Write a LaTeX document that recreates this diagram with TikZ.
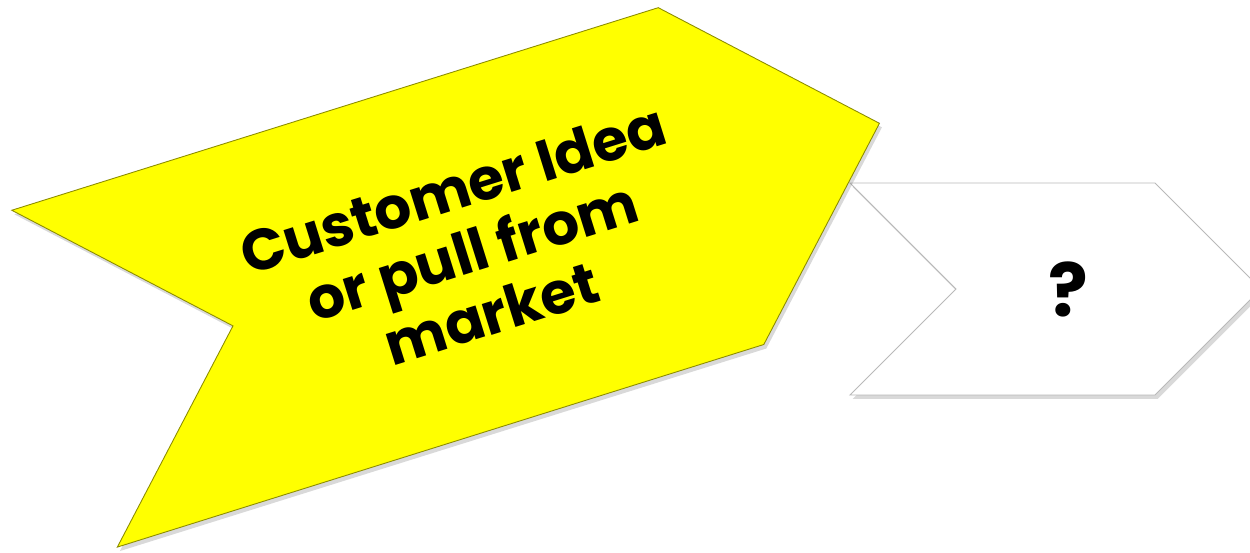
\documentclass[tikz,border=0pt]{standalone}
\usepackage{fontspec}
\setmainfont{Poppins}
\usetikzlibrary{shapes,shapes.symbols,shadows}
\definecolor{ideayellow}{RGB}{255,255,0}
\tikzset{
  chevron/.style={
      draw,
      signal,
      signal from=west,
      signal to=east,
      signal pointer angle=90,
      inner sep=0pt,
      align=center,
      line width=0.5pt,
      drop shadow={shadow xshift=0.5mm, shadow yshift=-0.8mm, opacity=0.3}
  },
  chevron+/.style={
      chevron,
      minimum width=#1
  }
}

\begin{document}
\begin{tikzpicture}
    \useasboundingbox (0,0) rectangle (25,11.06);
    \clip (0,0) rectangle (25,11.06);
    \node[chevron+=8.22cm, minimum height=4.24cm, fill=white, draw=gray!55,
      font=\bfseries\fontsize{42}{46}\selectfont] (next) at (21.11,5.28)
      {\hspace*{0.5cm}?};
    \node[chevron+=17.08cm, minimum height=7.06cm, fill=ideayellow,
      draw=ideayellow!55!black, rotate=17.4,
      font=\bfseries\fontsize{33}{37}\selectfont] (idea) at (9.44,6.04)
      {Customer Idea\\or pull from\\market};
\end{tikzpicture}
\end{document}
